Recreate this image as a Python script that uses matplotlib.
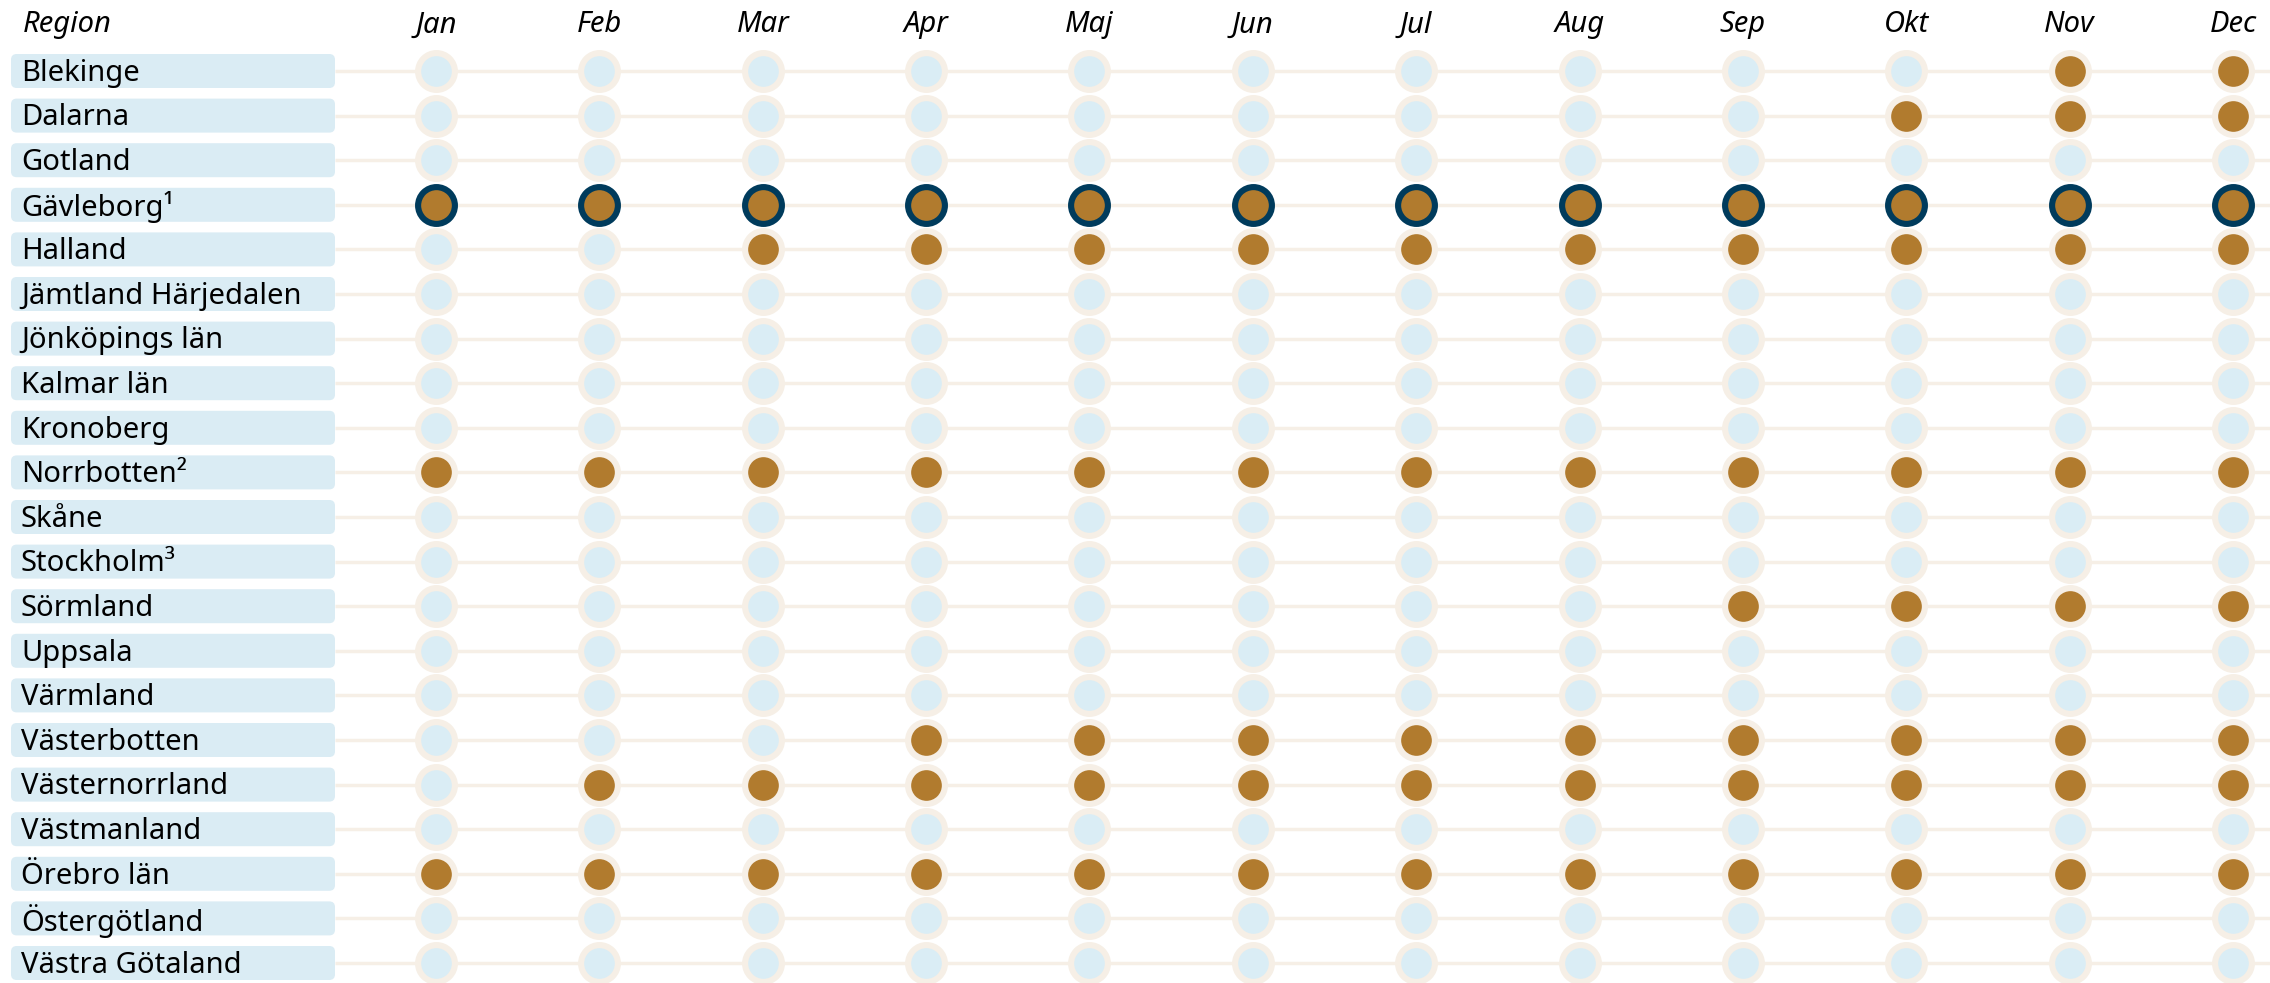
import matplotlib
matplotlib.use('Agg')
import matplotlib.pyplot as plt
from matplotlib.patches import FancyBboxPatch

plt.rcParams['font.family'] = ['Noto Sans', 'DejaVu Sans']

months = ['Jan', 'Feb', 'Mar', 'Apr', 'Maj', 'Jun', 'Jul', 'Aug', 'Sep', 'Okt', 'Nov', 'Dec']

regions = ['Blekinge', 'Dalarna', 'Gotland', 'Gävleborg¹', 'Halland',
           'Jämtland Härjedalen', 'Jönköpings län', 'Kalmar län', 'Kronoberg',
           'Norrbotten²', 'Skåne', 'Stockholm³', 'Sörmland', 'Uppsala', 'Värmland',
           'Västerbotten', 'Västernorrland', 'Västmanland', 'Örebro län',
           'Östergötland', 'Västra Götaland']

# 1 = brown dot, 0 = light dot, one string per region, Jan..Dec
status = ['000000000011',
          '000000000111',
          '000000000000',
          '111111111111',
          '001111111111',
          '000000000000',
          '000000000000',
          '000000000000',
          '000000000000',
          '111111111111',
          '000000000000',
          '000000000000',
          '000000001111',
          '000000000000',
          '000000000000',
          '000111111111',
          '011111111111',
          '000000000000',
          '111111111111',
          '000000000000',
          '000000000000']

highlight = ['Gävleborg¹']

brown = '#b17b2e'
light = '#daedf5'
beige = '#f6efe6'
navy = '#003b5c'
boxcol = '#daecf4'

W, H = 2270, 983
fig = plt.figure(figsize=(W / 100, H / 100), dpi=100)
ax = fig.add_axes([0, 0, 1, 1])

# pixel layout
x0px, xstep = 436, (2233 - 436) / 11
y0px, ystep = 71, (963 - 71) / 20
xl = -x0px / xstep
xr = 11 + (W - 2233) / xstep
yt = -y0px / ystep
yb = 20 + (H - 963) / ystep
ax.set_xlim(xl, xr)
ax.set_ylim(yb, yt)
ax.axis('off')

def px2x(p):
    return xl + p / xstep

box_l, box_r = px2x(11), px2x(335)
box_h = 34 / ystep

for i, reg in enumerate(regions):
    ax.add_patch(FancyBboxPatch((box_l, i - box_h / 2), box_r - box_l, box_h,
                                boxstyle='round,pad=0,rounding_size=0.035',
                                mutation_aspect=xstep / ystep,
                                fc=boxcol, ec='none', zorder=1))
    ax.text(px2x(21), i + 0.05, reg, fontsize=21, va='center', ha='left', zorder=3)
    ax.plot([box_r, xr], [i, i], color=beige, lw=2.5, zorder=1, solid_capstyle='butt')
    for j in range(len(months)):
        on = status[i][j] == '1'
        ec = navy if reg in highlight else beige
        ax.plot(j, i, 'o', ms=26.5, mew=4.4, mfc=brown if on else light, mec=ec, zorder=2)

ax.text(px2x(23), yt + 25 / ystep, 'Region', fontsize=21, style='italic', va='center', ha='left')
for j, m in enumerate(months):
    ax.text(j, yt + 25 / ystep, m, fontsize=21, style='italic', va='center', ha='center')

fig.savefig('out.png', dpi=100)
